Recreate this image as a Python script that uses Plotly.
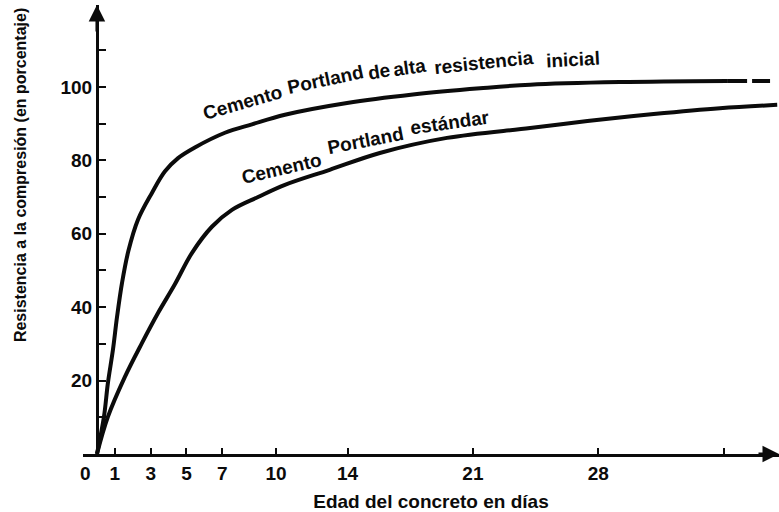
import plotly.graph_objects as go

# Compressive strength development of Portland cement concrete (percent of reference strength)
high_early_days = [0, 0.39, 0.61, 0.89, 1.12, 1.40, 1.75, 2.29, 3.07, 3.80, 4.53, 5.47,
                   7.15, 8.66, 10.5, 13.97, 17.65, 21.4, 24.2, 29.2, 35.2]
high_early_pct = [0, 10.1, 19.3, 28.3, 37.3, 46.6, 55.2, 63.8, 71.1, 77.0, 80.6, 83.5,
                  87.5, 89.8, 92.4, 95.6, 97.9, 99.6, 100.6, 101.3, 101.6]
# projected continuation of the high early strength curve (dashed)
high_early_ext_days = [35.2, 37.6]
high_early_ext_pct = [101.6, 101.6]

standard_days = [0, 0.61, 1.56, 2.51, 3.41, 4.36, 5.31, 6.42, 7.54, 9.0, 10.5, 13.0,
                 15.8, 19.55, 24.2, 27.4, 31.1, 34.8, 38.0]
standard_pct = [0, 10.1, 21.0, 30.2, 38.4, 46.3, 54.8, 61.9, 66.5, 70.0, 73.3, 77.4,
                82.0, 86.1, 88.8, 90.7, 92.6, 94.2, 95.1]

x_tick_vals = [0, 1, 3, 5, 7, 10, 14, 21, 28, 35]
x_tick_text = ["", "1", "3", "5", "7", "10", "14", "21", "28", ""]
origin_label = "0"
y_tick_vals = [10, 20, 30, 40, 50, 60, 70, 80, 90, 100, 110]
y_tick_text = ["", "20", "", "40", "", "60", "", "80", "", "100", ""]

label_high = ["Cemento", "Portland", "de", "alta", "resistencia", "inicial"]
label_std = ["Cemento", "Portland", "estándar"]

FONT = "Liberation Sans, Arial, Helvetica, sans-serif"
INK = "#0b0b0b"

X_MIN, X_MAX = -0.78, 38.1
Y_MIN, Y_MAX = 0, 122.3

fig = go.Figure()

line_style = dict(color=INK, width=4, shape="spline", smoothing=1.0)
fig.add_trace(go.Scatter(x=high_early_days, y=high_early_pct, mode="lines",
                         line=line_style, hoverinfo="skip"))
fig.add_trace(go.Scatter(x=high_early_ext_days, y=high_early_ext_pct, mode="lines",
                         line=dict(color=INK, width=4, dash="20px,5px"), hoverinfo="skip"))
fig.add_trace(go.Scatter(x=standard_days, y=standard_pct, mode="lines",
                         line=line_style, hoverinfo="skip"))

# curve labels, word by word so they follow the bend of each curve
label_font = dict(family=FONT, size=19, color=INK, weight="bold")
high_pos = [(8.13, 95.7, -16), (12.78, 101.9, -12), (15.75, 104.2, -9),
            (17.45, 105.4, -8), (21.6, 106.6, -6), (26.6, 107.5, -3)]
for word, (wx, wy, ang) in zip(label_high, high_pos):
    fig.add_annotation(x=wx, y=wy, text=word, showarrow=False, textangle=ang,
                       font=label_font, xanchor="center", yanchor="middle")
std_pos = [(10.32, 77.7, -13), (15.0, 85.3, -11), (19.7, 90.2, -8)]
for word, (wx, wy, ang) in zip(label_std, std_pos):
    fig.add_annotation(x=wx, y=wy, text=word, showarrow=False, textangle=ang,
                       font=label_font, xanchor="center", yanchor="middle")

# origin label, set just left of the vertical axis
fig.add_annotation(x=0, y=0, xref="x", yref="y", text=origin_label, showarrow=False,
                   xanchor="center", yanchor="middle", xshift=-11, yshift=-19,
                   font=dict(family=FONT, size=19, color=INK, weight="bold"))

# arrow heads on both axes
fig.add_annotation(x=0, y=Y_MAX, ax=0, ay=28, xref="x", yref="y", text="",
                   showarrow=True, arrowhead=2, arrowsize=1.1, arrowwidth=3,
                   arrowcolor=INK, standoff=0)
fig.add_annotation(x=X_MAX, y=0, ax=-22, ay=0, xref="x", yref="y", text="",
                   showarrow=True, arrowhead=2, arrowsize=1.1, arrowwidth=3,
                   arrowcolor=INK, standoff=0)

# vertical axis title
fig.add_annotation(xref="paper", yref="paper", x=-0.09, y=0.622,
                   text="Resistencia a la compresión (en porcentaje)", textangle=-90,
                   showarrow=False, xanchor="center", yanchor="middle",
                   font=dict(family=FONT, size=16, color=INK, weight="bold"))

ML, MR, MT, MB = 83, 0, 5, 58
y_axis_pos = (0 - X_MIN) / (X_MAX - X_MIN)

fig.update_layout(
    width=779, height=512,
    margin=dict(l=ML, r=MR, t=MT, b=MB),
    paper_bgcolor="white", plot_bgcolor="white",
    showlegend=False,
    xaxis=dict(
        range=[X_MIN, X_MAX], showgrid=False, zeroline=False,
        showline=True, linecolor=INK, linewidth=3,
        tickmode="array", tickvals=x_tick_vals, ticktext=x_tick_text,
        tickangle=0,
        ticks="inside", ticklen=6, tickwidth=2, tickcolor=INK,
        tickfont=dict(family=FONT, size=19, color=INK, weight="bold"),
        title=dict(text="Edad del concreto en días", standoff=16,
                   font=dict(family=FONT, size=19, color=INK, weight="bold")),
    ),
    yaxis=dict(
        range=[Y_MIN, Y_MAX], showgrid=False, zeroline=False,
        anchor="free", position=y_axis_pos,
        showline=True, linecolor=INK, linewidth=3,
        tickmode="array", tickvals=y_tick_vals, ticktext=y_tick_text,
        ticks="inside", ticklen=7, tickwidth=2, tickcolor=INK,
        tickfont=dict(family=FONT, size=19, color=INK, weight="bold"),
    ),
)

fig.write_html("out.html")
